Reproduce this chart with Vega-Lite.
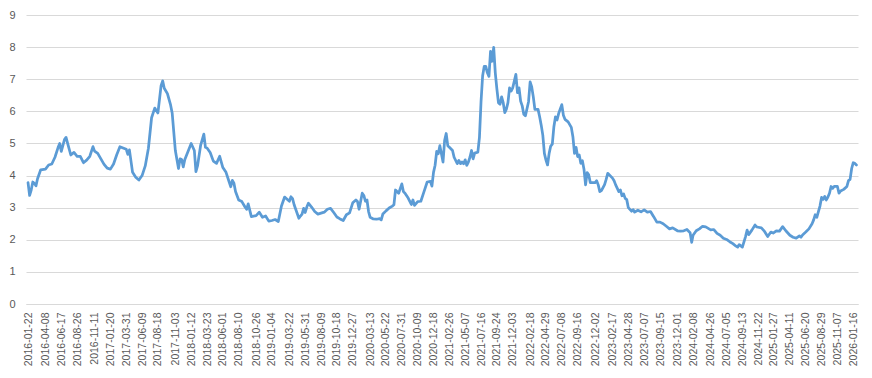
{
  "$schema": "https://vega.github.io/schema/vega-lite/v6.json",
  "width": 832,
  "height": 289,
  "autosize": {"type": "none"},
  "padding": {"left": 26, "top": 15, "right": 14, "bottom": 74},
  "background": "white",
  "config": {"view": {"stroke": null}, "font": "Liberation Sans"},
  "data": {"values": [
    {"date":"2016-01-22","value":3.78},{"date":"2016-01-29","value":3.38},{"date":"2016-02-05","value":3.55},{"date":"2016-02-12","value":3.8},{"date":"2016-02-19","value":3.75},{"date":"2016-02-26","value":3.68},{"date":"2016-03-04","value":3.9},{"date":"2016-03-18","value":4.18},
    {"date":"2016-04-08","value":4.2},{"date":"2016-04-22","value":4.33},{"date":"2016-05-06","value":4.36},{"date":"2016-05-20","value":4.57},{"date":"2016-06-03","value":4.88},{"date":"2016-06-10","value":5.0},
    {"date":"2016-06-17","value":4.75},{"date":"2016-07-01","value":5.12},{"date":"2016-07-08","value":5.19},{"date":"2016-07-15","value":5.0},{"date":"2016-07-29","value":4.64},{"date":"2016-08-12","value":4.72},
    {"date":"2016-08-26","value":4.6},{"date":"2016-09-09","value":4.6},{"date":"2016-09-23","value":4.4},{"date":"2016-10-07","value":4.48},{"date":"2016-10-21","value":4.6},
    {"date":"2016-11-04","value":4.9},{"date":"2016-11-11","value":4.76},{"date":"2016-11-25","value":4.69},{"date":"2016-12-09","value":4.52},{"date":"2016-12-23","value":4.35},{"date":"2017-01-06","value":4.23},
    {"date":"2017-01-20","value":4.2},{"date":"2017-02-03","value":4.36},{"date":"2017-02-17","value":4.65},{"date":"2017-03-03","value":4.9},{"date":"2017-03-17","value":4.86},
    {"date":"2017-03-31","value":4.82},{"date":"2017-04-07","value":4.66},{"date":"2017-04-14","value":4.8},{"date":"2017-04-28","value":4.1},{"date":"2017-05-12","value":3.95},{"date":"2017-05-26","value":3.86},
    {"date":"2017-06-09","value":4.0},{"date":"2017-06-23","value":4.3},{"date":"2017-07-07","value":4.85},{"date":"2017-07-21","value":5.8},{"date":"2017-08-04","value":6.1},
    {"date":"2017-08-18","value":5.95},{"date":"2017-09-01","value":6.8},{"date":"2017-09-08","value":6.95},{"date":"2017-09-15","value":6.72},{"date":"2017-09-29","value":6.55},{"date":"2017-10-13","value":6.2},{"date":"2017-10-20","value":5.95},
    {"date":"2017-11-03","value":4.78},{"date":"2017-11-17","value":4.22},{"date":"2017-11-24","value":4.52},{"date":"2017-12-01","value":4.5},{"date":"2017-12-08","value":4.27},{"date":"2017-12-15","value":4.5},{"date":"2017-12-29","value":4.75},
    {"date":"2018-01-12","value":5.0},{"date":"2018-01-26","value":4.78},{"date":"2018-02-02","value":4.12},{"date":"2018-02-09","value":4.3},{"date":"2018-02-23","value":4.95},{"date":"2018-03-09","value":5.29},{"date":"2018-03-16","value":4.88},
    {"date":"2018-03-23","value":4.86},{"date":"2018-04-06","value":4.72},{"date":"2018-04-20","value":4.45},{"date":"2018-05-04","value":4.38},{"date":"2018-05-18","value":4.6},
    {"date":"2018-06-01","value":4.25},{"date":"2018-06-15","value":4.1},{"date":"2018-06-29","value":3.8},{"date":"2018-07-06","value":3.65},{"date":"2018-07-13","value":3.85},{"date":"2018-07-20","value":3.76},{"date":"2018-07-27","value":3.5},
    {"date":"2018-08-10","value":3.24},{"date":"2018-08-24","value":3.19},{"date":"2018-09-07","value":3.02},{"date":"2018-09-14","value":2.95},{"date":"2018-09-21","value":3.12},{"date":"2018-10-05","value":2.72},
    {"date":"2018-10-26","value":2.75},{"date":"2018-11-09","value":2.86},{"date":"2018-11-23","value":2.7},{"date":"2018-12-07","value":2.74},{"date":"2018-12-21","value":2.58},
    {"date":"2019-01-04","value":2.6},{"date":"2019-01-18","value":2.63},{"date":"2019-02-01","value":2.57},{"date":"2019-02-15","value":3.05},{"date":"2019-03-01","value":3.33},
    {"date":"2019-03-22","value":3.2},{"date":"2019-03-29","value":3.34},{"date":"2019-04-05","value":3.28},{"date":"2019-04-12","value":3.09},{"date":"2019-04-19","value":2.95},{"date":"2019-05-03","value":2.67},{"date":"2019-05-10","value":2.74},{"date":"2019-05-17","value":2.8},
    {"date":"2019-05-24","value":2.98},{"date":"2019-05-31","value":2.85},{"date":"2019-06-07","value":3.02},{"date":"2019-06-14","value":3.14},{"date":"2019-06-28","value":3.02},{"date":"2019-07-12","value":2.88},{"date":"2019-07-26","value":2.8},
    {"date":"2019-08-09","value":2.83},{"date":"2019-08-23","value":2.86},{"date":"2019-09-06","value":2.95},{"date":"2019-09-20","value":2.98},{"date":"2019-10-04","value":2.85},
    {"date":"2019-10-18","value":2.71},{"date":"2019-11-01","value":2.65},{"date":"2019-11-15","value":2.6},{"date":"2019-11-29","value":2.78},{"date":"2019-12-13","value":2.84},
    {"date":"2019-12-27","value":3.15},{"date":"2020-01-10","value":3.24},{"date":"2020-01-17","value":3.19},{"date":"2020-01-24","value":2.95},{"date":"2020-02-07","value":3.45},{"date":"2020-02-14","value":3.38},{"date":"2020-02-21","value":3.2},{"date":"2020-02-28","value":3.24},{"date":"2020-03-06","value":2.88},
    {"date":"2020-03-13","value":2.7},{"date":"2020-03-27","value":2.65},{"date":"2020-04-10","value":2.64},{"date":"2020-04-24","value":2.66},{"date":"2020-05-01","value":2.62},{"date":"2020-05-08","value":2.8},
    {"date":"2020-05-22","value":2.9},{"date":"2020-06-05","value":2.99},{"date":"2020-06-19","value":3.05},{"date":"2020-06-26","value":3.09},{"date":"2020-07-03","value":3.55},{"date":"2020-07-17","value":3.45},
    {"date":"2020-07-31","value":3.74},{"date":"2020-08-07","value":3.5},{"date":"2020-08-14","value":3.45},{"date":"2020-08-28","value":3.3},{"date":"2020-09-11","value":3.1},{"date":"2020-09-18","value":3.24},{"date":"2020-09-25","value":3.07},
    {"date":"2020-10-09","value":3.19},{"date":"2020-10-23","value":3.2},{"date":"2020-11-06","value":3.5},{"date":"2020-11-20","value":3.8},{"date":"2020-12-04","value":3.82},{"date":"2020-12-11","value":3.67},
    {"date":"2020-12-18","value":4.1},{"date":"2020-12-25","value":4.32},{"date":"2021-01-01","value":4.75},{"date":"2021-01-08","value":4.68},{"date":"2021-01-15","value":4.93},{"date":"2021-01-22","value":4.68},{"date":"2021-01-29","value":4.42},{"date":"2021-02-05","value":5.09},{"date":"2021-02-12","value":5.31},{"date":"2021-02-19","value":4.93},
    {"date":"2021-02-26","value":4.88},{"date":"2021-03-12","value":4.78},{"date":"2021-03-19","value":4.57},{"date":"2021-04-02","value":4.37},{"date":"2021-04-09","value":4.47},{"date":"2021-04-16","value":4.37},{"date":"2021-04-23","value":4.42},{"date":"2021-04-30","value":4.37},
    {"date":"2021-05-07","value":4.49},{"date":"2021-05-14","value":4.32},{"date":"2021-05-21","value":4.42},{"date":"2021-05-28","value":4.57},{"date":"2021-06-04","value":4.78},{"date":"2021-06-11","value":4.52},{"date":"2021-06-18","value":4.7},{"date":"2021-07-02","value":4.73},
    {"date":"2021-07-09","value":5.19},{"date":"2021-07-16","value":6.3},{"date":"2021-07-23","value":7.1},{"date":"2021-07-30","value":7.4},{"date":"2021-08-06","value":7.4},{"date":"2021-08-13","value":7.2},{"date":"2021-08-20","value":7.09},{"date":"2021-08-27","value":7.87},{"date":"2021-09-03","value":7.56},{"date":"2021-09-10","value":7.99},{"date":"2021-09-17","value":7.2},
    {"date":"2021-09-24","value":6.7},{"date":"2021-10-01","value":6.27},{"date":"2021-10-08","value":6.22},{"date":"2021-10-15","value":6.45},{"date":"2021-10-22","value":6.27},{"date":"2021-10-29","value":5.96},{"date":"2021-11-05","value":6.07},{"date":"2021-11-12","value":6.27},{"date":"2021-11-19","value":6.73},{"date":"2021-11-26","value":6.63},
    {"date":"2021-12-03","value":6.73},{"date":"2021-12-17","value":7.15},{"date":"2021-12-24","value":6.58},{"date":"2021-12-31","value":6.73},{"date":"2022-01-07","value":6.32},{"date":"2022-01-14","value":6.17},{"date":"2022-01-21","value":5.91},{"date":"2022-01-28","value":5.86},
    {"date":"2022-02-11","value":6.3},{"date":"2022-02-18","value":6.92},{"date":"2022-02-25","value":6.76},{"date":"2022-03-04","value":6.45},{"date":"2022-03-11","value":6.06},{"date":"2022-03-25","value":6.06},{"date":"2022-04-01","value":5.83},{"date":"2022-04-08","value":5.57},{"date":"2022-04-15","value":5.26},{"date":"2022-04-22","value":4.69},
    {"date":"2022-04-29","value":4.48},{"date":"2022-05-06","value":4.33},{"date":"2022-05-13","value":4.69},{"date":"2022-05-20","value":4.92},{"date":"2022-05-27","value":4.98},{"date":"2022-06-03","value":5.52},{"date":"2022-06-10","value":5.83},{"date":"2022-06-17","value":5.73},{"date":"2022-06-24","value":5.93},
    {"date":"2022-07-08","value":6.21},{"date":"2022-07-15","value":5.88},{"date":"2022-07-22","value":5.75},{"date":"2022-08-05","value":5.67},{"date":"2022-08-19","value":5.5},{"date":"2022-08-26","value":5.21},{"date":"2022-09-02","value":4.69},{"date":"2022-09-09","value":4.88},
    {"date":"2022-09-16","value":4.59},{"date":"2022-09-23","value":4.64},{"date":"2022-09-30","value":4.38},{"date":"2022-10-07","value":4.46},{"date":"2022-10-14","value":4.2},{"date":"2022-10-21","value":3.71},{"date":"2022-10-28","value":4.09},{"date":"2022-11-04","value":4.02},{"date":"2022-11-11","value":3.78},
    {"date":"2022-12-02","value":3.78},{"date":"2022-12-09","value":3.84},{"date":"2022-12-16","value":3.71},{"date":"2022-12-23","value":3.5},{"date":"2022-12-30","value":3.53},{"date":"2023-01-13","value":3.72},{"date":"2023-01-20","value":3.88},{"date":"2023-01-27","value":4.07},
    {"date":"2023-02-17","value":3.92},{"date":"2023-02-24","value":3.84},{"date":"2023-03-03","value":3.71},{"date":"2023-03-17","value":3.5},{"date":"2023-03-24","value":3.55},{"date":"2023-03-31","value":3.37},{"date":"2023-04-07","value":3.43},{"date":"2023-04-14","value":3.29},{"date":"2023-04-21","value":3.25},
    {"date":"2023-04-28","value":3.0},{"date":"2023-05-12","value":2.89},{"date":"2023-05-19","value":2.94},{"date":"2023-05-26","value":2.86},{"date":"2023-06-09","value":2.92},{"date":"2023-06-23","value":2.87},
    {"date":"2023-07-07","value":2.93},{"date":"2023-07-21","value":2.86},{"date":"2023-08-04","value":2.88},{"date":"2023-08-18","value":2.72},{"date":"2023-09-01","value":2.55},
    {"date":"2023-09-15","value":2.55},{"date":"2023-09-29","value":2.5},{"date":"2023-10-13","value":2.42},{"date":"2023-10-27","value":2.34},{"date":"2023-11-10","value":2.37},
    {"date":"2023-12-01","value":2.28},{"date":"2023-12-15","value":2.27},{"date":"2023-12-29","value":2.28},{"date":"2024-01-12","value":2.32},{"date":"2024-01-26","value":2.22},{"date":"2024-02-02","value":1.92},
    {"date":"2024-02-08","value":2.14},{"date":"2024-02-22","value":2.28},{"date":"2024-03-07","value":2.34},{"date":"2024-03-21","value":2.42},{"date":"2024-04-04","value":2.4},
    {"date":"2024-04-26","value":2.31},{"date":"2024-05-10","value":2.32},{"date":"2024-05-24","value":2.2},{"date":"2024-06-07","value":2.14},{"date":"2024-06-21","value":2.05},
    {"date":"2024-07-05","value":2.01},{"date":"2024-07-19","value":1.94},{"date":"2024-08-02","value":1.88},{"date":"2024-08-16","value":1.8},{"date":"2024-08-23","value":1.77},{"date":"2024-08-30","value":1.85},
    {"date":"2024-09-13","value":1.77},{"date":"2024-09-27","value":2.1},{"date":"2024-10-04","value":2.3},{"date":"2024-10-11","value":2.16},{"date":"2024-10-25","value":2.3},{"date":"2024-11-08","value":2.46},{"date":"2024-11-15","value":2.4},
    {"date":"2024-11-22","value":2.39},{"date":"2024-12-06","value":2.37},{"date":"2024-12-20","value":2.26},{"date":"2025-01-03","value":2.1},{"date":"2025-01-17","value":2.24},
    {"date":"2025-01-27","value":2.21},{"date":"2025-02-10","value":2.28},{"date":"2025-02-24","value":2.27},{"date":"2025-03-10","value":2.41},{"date":"2025-03-24","value":2.28},
    {"date":"2025-04-11","value":2.14},{"date":"2025-04-25","value":2.08},{"date":"2025-05-09","value":2.05},{"date":"2025-05-23","value":2.12},{"date":"2025-05-30","value":2.08},{"date":"2025-06-06","value":2.15},
    {"date":"2025-06-20","value":2.24},{"date":"2025-07-04","value":2.34},{"date":"2025-07-18","value":2.5},{"date":"2025-07-25","value":2.62},{"date":"2025-08-01","value":2.78},{"date":"2025-08-08","value":2.7},{"date":"2025-08-15","value":2.88},{"date":"2025-08-22","value":3.05},
    {"date":"2025-08-29","value":3.32},{"date":"2025-09-05","value":3.26},{"date":"2025-09-12","value":3.35},{"date":"2025-09-19","value":3.24},{"date":"2025-09-26","value":3.33},{"date":"2025-10-03","value":3.45},{"date":"2025-10-10","value":3.66},{"date":"2025-10-17","value":3.6},{"date":"2025-10-24","value":3.66},
    {"date":"2025-11-07","value":3.66},{"date":"2025-11-14","value":3.45},{"date":"2025-11-21","value":3.52},{"date":"2025-12-05","value":3.57},{"date":"2025-12-19","value":3.66},{"date":"2025-12-26","value":3.84},{"date":"2026-01-02","value":3.88},{"date":"2026-01-09","value":4.22},
    {"date":"2026-01-16","value":4.4},{"date":"2026-01-23","value":4.38},{"date":"2026-01-30","value":4.33}
  ]},
  "mark": {"type": "line", "color": "#5b9bd5", "strokeWidth": 2.75, "strokeJoin": "round", "strokeCap": "round"},
  "encoding": {
    "x": {
      "field": "date", "type": "temporal",
      "scale": {"type": "utc", "domain": [{"year": 2016, "month": 1, "date": 13, "utc": true}, {"year": 2026, "month": 2, "date": 6, "utc": true}]},
      "axis": {
        "title": null, "grid": false, "ticks": false, "domainColor": "#d9d9d9", "domainWidth": 1,
        "labelAngle": 270, "labelPadding": 8, "labelFontSize": 10.5, "labelColor": "#595959", "labelOverlap": false, "labelFlush": false,
        "format": "%Y-%m-%d",
        "values": [
          {"year":2016,"month":1,"date":22,"utc":true},{"year":2016,"month":4,"date":8,"utc":true},{"year":2016,"month":6,"date":17,"utc":true},{"year":2016,"month":8,"date":26,"utc":true},{"year":2016,"month":11,"date":11,"utc":true},
          {"year":2017,"month":1,"date":20,"utc":true},{"year":2017,"month":3,"date":31,"utc":true},{"year":2017,"month":6,"date":9,"utc":true},{"year":2017,"month":8,"date":18,"utc":true},{"year":2017,"month":11,"date":3,"utc":true},
          {"year":2018,"month":1,"date":12,"utc":true},{"year":2018,"month":3,"date":23,"utc":true},{"year":2018,"month":6,"date":1,"utc":true},{"year":2018,"month":8,"date":10,"utc":true},{"year":2018,"month":10,"date":26,"utc":true},
          {"year":2019,"month":1,"date":4,"utc":true},{"year":2019,"month":3,"date":22,"utc":true},{"year":2019,"month":5,"date":31,"utc":true},{"year":2019,"month":8,"date":9,"utc":true},{"year":2019,"month":10,"date":18,"utc":true},{"year":2019,"month":12,"date":27,"utc":true},
          {"year":2020,"month":3,"date":13,"utc":true},{"year":2020,"month":5,"date":22,"utc":true},{"year":2020,"month":7,"date":31,"utc":true},{"year":2020,"month":10,"date":9,"utc":true},{"year":2020,"month":12,"date":18,"utc":true},
          {"year":2021,"month":2,"date":26,"utc":true},{"year":2021,"month":5,"date":7,"utc":true},{"year":2021,"month":7,"date":16,"utc":true},{"year":2021,"month":9,"date":24,"utc":true},{"year":2021,"month":12,"date":3,"utc":true},
          {"year":2022,"month":2,"date":18,"utc":true},{"year":2022,"month":4,"date":29,"utc":true},{"year":2022,"month":7,"date":8,"utc":true},{"year":2022,"month":9,"date":16,"utc":true},{"year":2022,"month":12,"date":2,"utc":true},
          {"year":2023,"month":2,"date":17,"utc":true},{"year":2023,"month":4,"date":28,"utc":true},{"year":2023,"month":7,"date":7,"utc":true},{"year":2023,"month":9,"date":15,"utc":true},{"year":2023,"month":12,"date":1,"utc":true},
          {"year":2024,"month":2,"date":8,"utc":true},{"year":2024,"month":4,"date":26,"utc":true},{"year":2024,"month":7,"date":5,"utc":true},{"year":2024,"month":9,"date":13,"utc":true},{"year":2024,"month":11,"date":22,"utc":true},
          {"year":2025,"month":1,"date":27,"utc":true},{"year":2025,"month":4,"date":11,"utc":true},{"year":2025,"month":6,"date":20,"utc":true},{"year":2025,"month":8,"date":29,"utc":true},{"year":2025,"month":11,"date":7,"utc":true},
          {"year":2026,"month":1,"date":16,"utc":true}
        ]
      }
    },
    "y": {
      "field": "value", "type": "quantitative",
      "scale": {"domain": [0, 9], "nice": false},
      "axis": {
        "title": null, "values": [0,1,2,3,4,5,6,7,8,9], "domain": false, "ticks": false,
        "gridColor": "#d9d9d9", "gridWidth": 1, "labelPadding": 11, "labelFontSize": 11, "labelColor": "#595959"
      }
    }
  }
}
